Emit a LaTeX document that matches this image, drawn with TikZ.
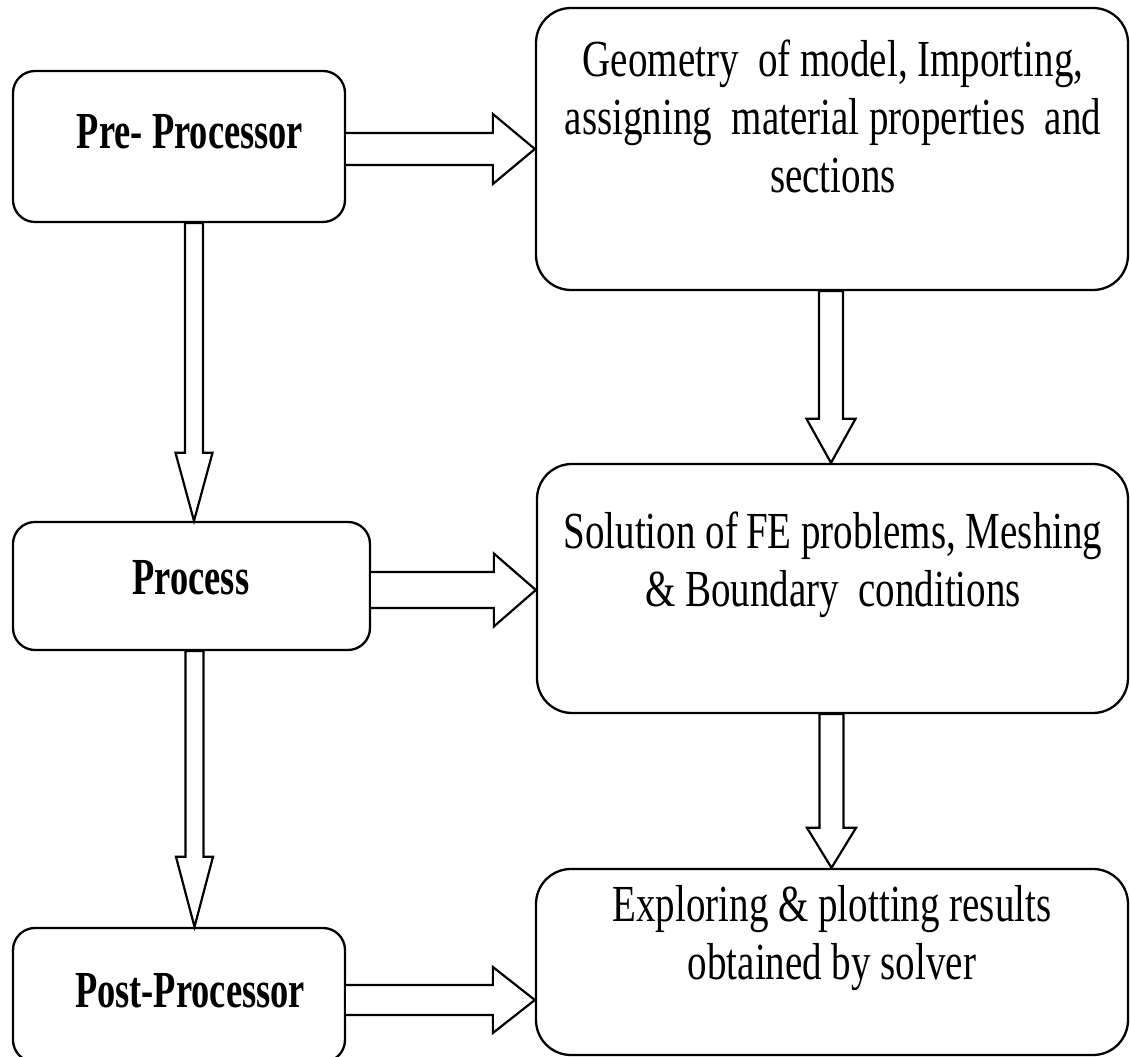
\documentclass[tikz,border=0pt]{standalone}
\usepackage{fontspec}
\setmainfont{Liberation Serif}[FakeStretch=0.75]
\newfontfamily\condbold{Liberation Serif}[FakeStretch=0.70]
\usetikzlibrary{calc}
\tikzset{
  lbox/.style={draw=black, line width=2.3pt, rounded corners=22pt, fill=white, inner sep=0pt},
  rbox/.style={draw=black, line width=2.3pt, rounded corners=35pt, fill=white, inner sep=0pt},
  barrow/.style={draw=black, line width=2.2pt, fill=white, line join=miter},
  ltxt/.style={inner sep=0pt, font=\condbold\bfseries\fontsize{52}{64}\selectfont},
  rtxt/.style={inner sep=0pt, align=center, font=\fontsize{52}{58}\selectfont}
}
% horizontal block arrow: #1 start (centre), #2 tip, #3 shaft half, #4 head half, #5 head length
\newcommand\hbarrow[5]{%
  \draw[barrow] ([yshift=#3pt]#1) -- ([xshift=-#5pt,yshift=#3pt]#2) -- ([xshift=-#5pt,yshift=#4pt]#2) -- (#2)
    -- ([xshift=-#5pt,yshift=-#4pt]#2) -- ([xshift=-#5pt,yshift=-#3pt]#2) -- ([yshift=-#3pt]#1);}
% vertical block arrow (downwards)
\newcommand\vbarrow[5]{%
  \draw[barrow] ([xshift=-#3pt]#1) -- ([yshift=#5pt,xshift=-#3pt]#2) -- ([yshift=#5pt,xshift=-#4pt]#2) -- (#2)
    -- ([yshift=#5pt,xshift=#4pt]#2) -- ([yshift=#5pt,xshift=#3pt]#2) -- ([xshift=#3pt]#1) -- cycle;}
\begin{document}
\begin{tikzpicture}[x=1pt,y=1pt]
\useasboundingbox (0,0) rectangle (1130,1057);
% boxes
\node[lbox, minimum width=332pt, minimum height=151pt] (pre) at (179,910.5) {};
\node[lbox, minimum width=357pt, minimum height=128pt] (proc) at (191.5,471) {};
\node[lbox, minimum width=332pt, minimum height=134pt] (post) at (179,62) {};
\node[rbox, minimum width=592pt, minimum height=282pt] (geo) at (832,908) {};
\node[rbox, minimum width=591pt, minimum height=249pt] (sol) at (832.5,468.5) {};
\node[rbox, minimum width=592pt, minimum height=186pt] (exp) at (832,95) {};
% texts
\node[ltxt] (pretxt) at (190,925) {Pre- Processor};
\node[ltxt] (proctxt) at (191,479) {Process};
\node[ltxt] (posttxt) at (190,66) {Post-Processor};
\node[rtxt] (geotxt) at (833,941) {Geometry\ \ of model, Importing,\\assigning\ \ material properties\ \ and\\sections};
\node[rtxt] (soltxt) at (833,492) {Solution of\hspace{8pt}FE problems, Meshing\\\& Boundary\ \ conditions};
\node[rtxt] (exptxt) at (832,119) {Exploring \& plotting results\\obtained by solver};
% horizontal arrows
\coordinate (h1s) at ([yshift=-2.5pt]pre.east);
\coordinate (h1t) at (geo.west |- h1s);
\hbarrow{h1s}{h1t}{16}{35}{42}
\coordinate (h2s) at ([yshift=-4pt]proc.east);
\coordinate (h2t) at (sol.west |- h2s);
\hbarrow{h2s}{h2t}{18}{36.5}{42}
\coordinate (h3s) at ([yshift=-5pt]post.east);
\coordinate (h3t) at (exp.west |- h3s);
\hbarrow{h3s}{h3t}{15}{33}{42}
% vertical arrows
\coordinate (v1s) at ([xshift=15pt]pre.south);
\coordinate (v1t) at (proc.north -| v1s);
\vbarrow{v1s}{v1t}{9}{18.5}{68}
\coordinate (v2s) at ([xshift=3pt]proc.south);
\coordinate (v2t) at (post.north -| v2s);
\vbarrow{v2s}{v2t}{9}{18.5}{70}
\coordinate (v3s) at ([xshift=-1pt]geo.south);
\coordinate (v3t) at (sol.north -| v3s);
\vbarrow{v3s}{v3t}{12}{24.5}{44}
\coordinate (v4s) at ([xshift=-1pt]sol.south);
\coordinate (v4t) at (exp.north -| v4s);
\vbarrow{v4s}{v4t}{12}{24.5}{40}
\end{tikzpicture}
\end{document}
